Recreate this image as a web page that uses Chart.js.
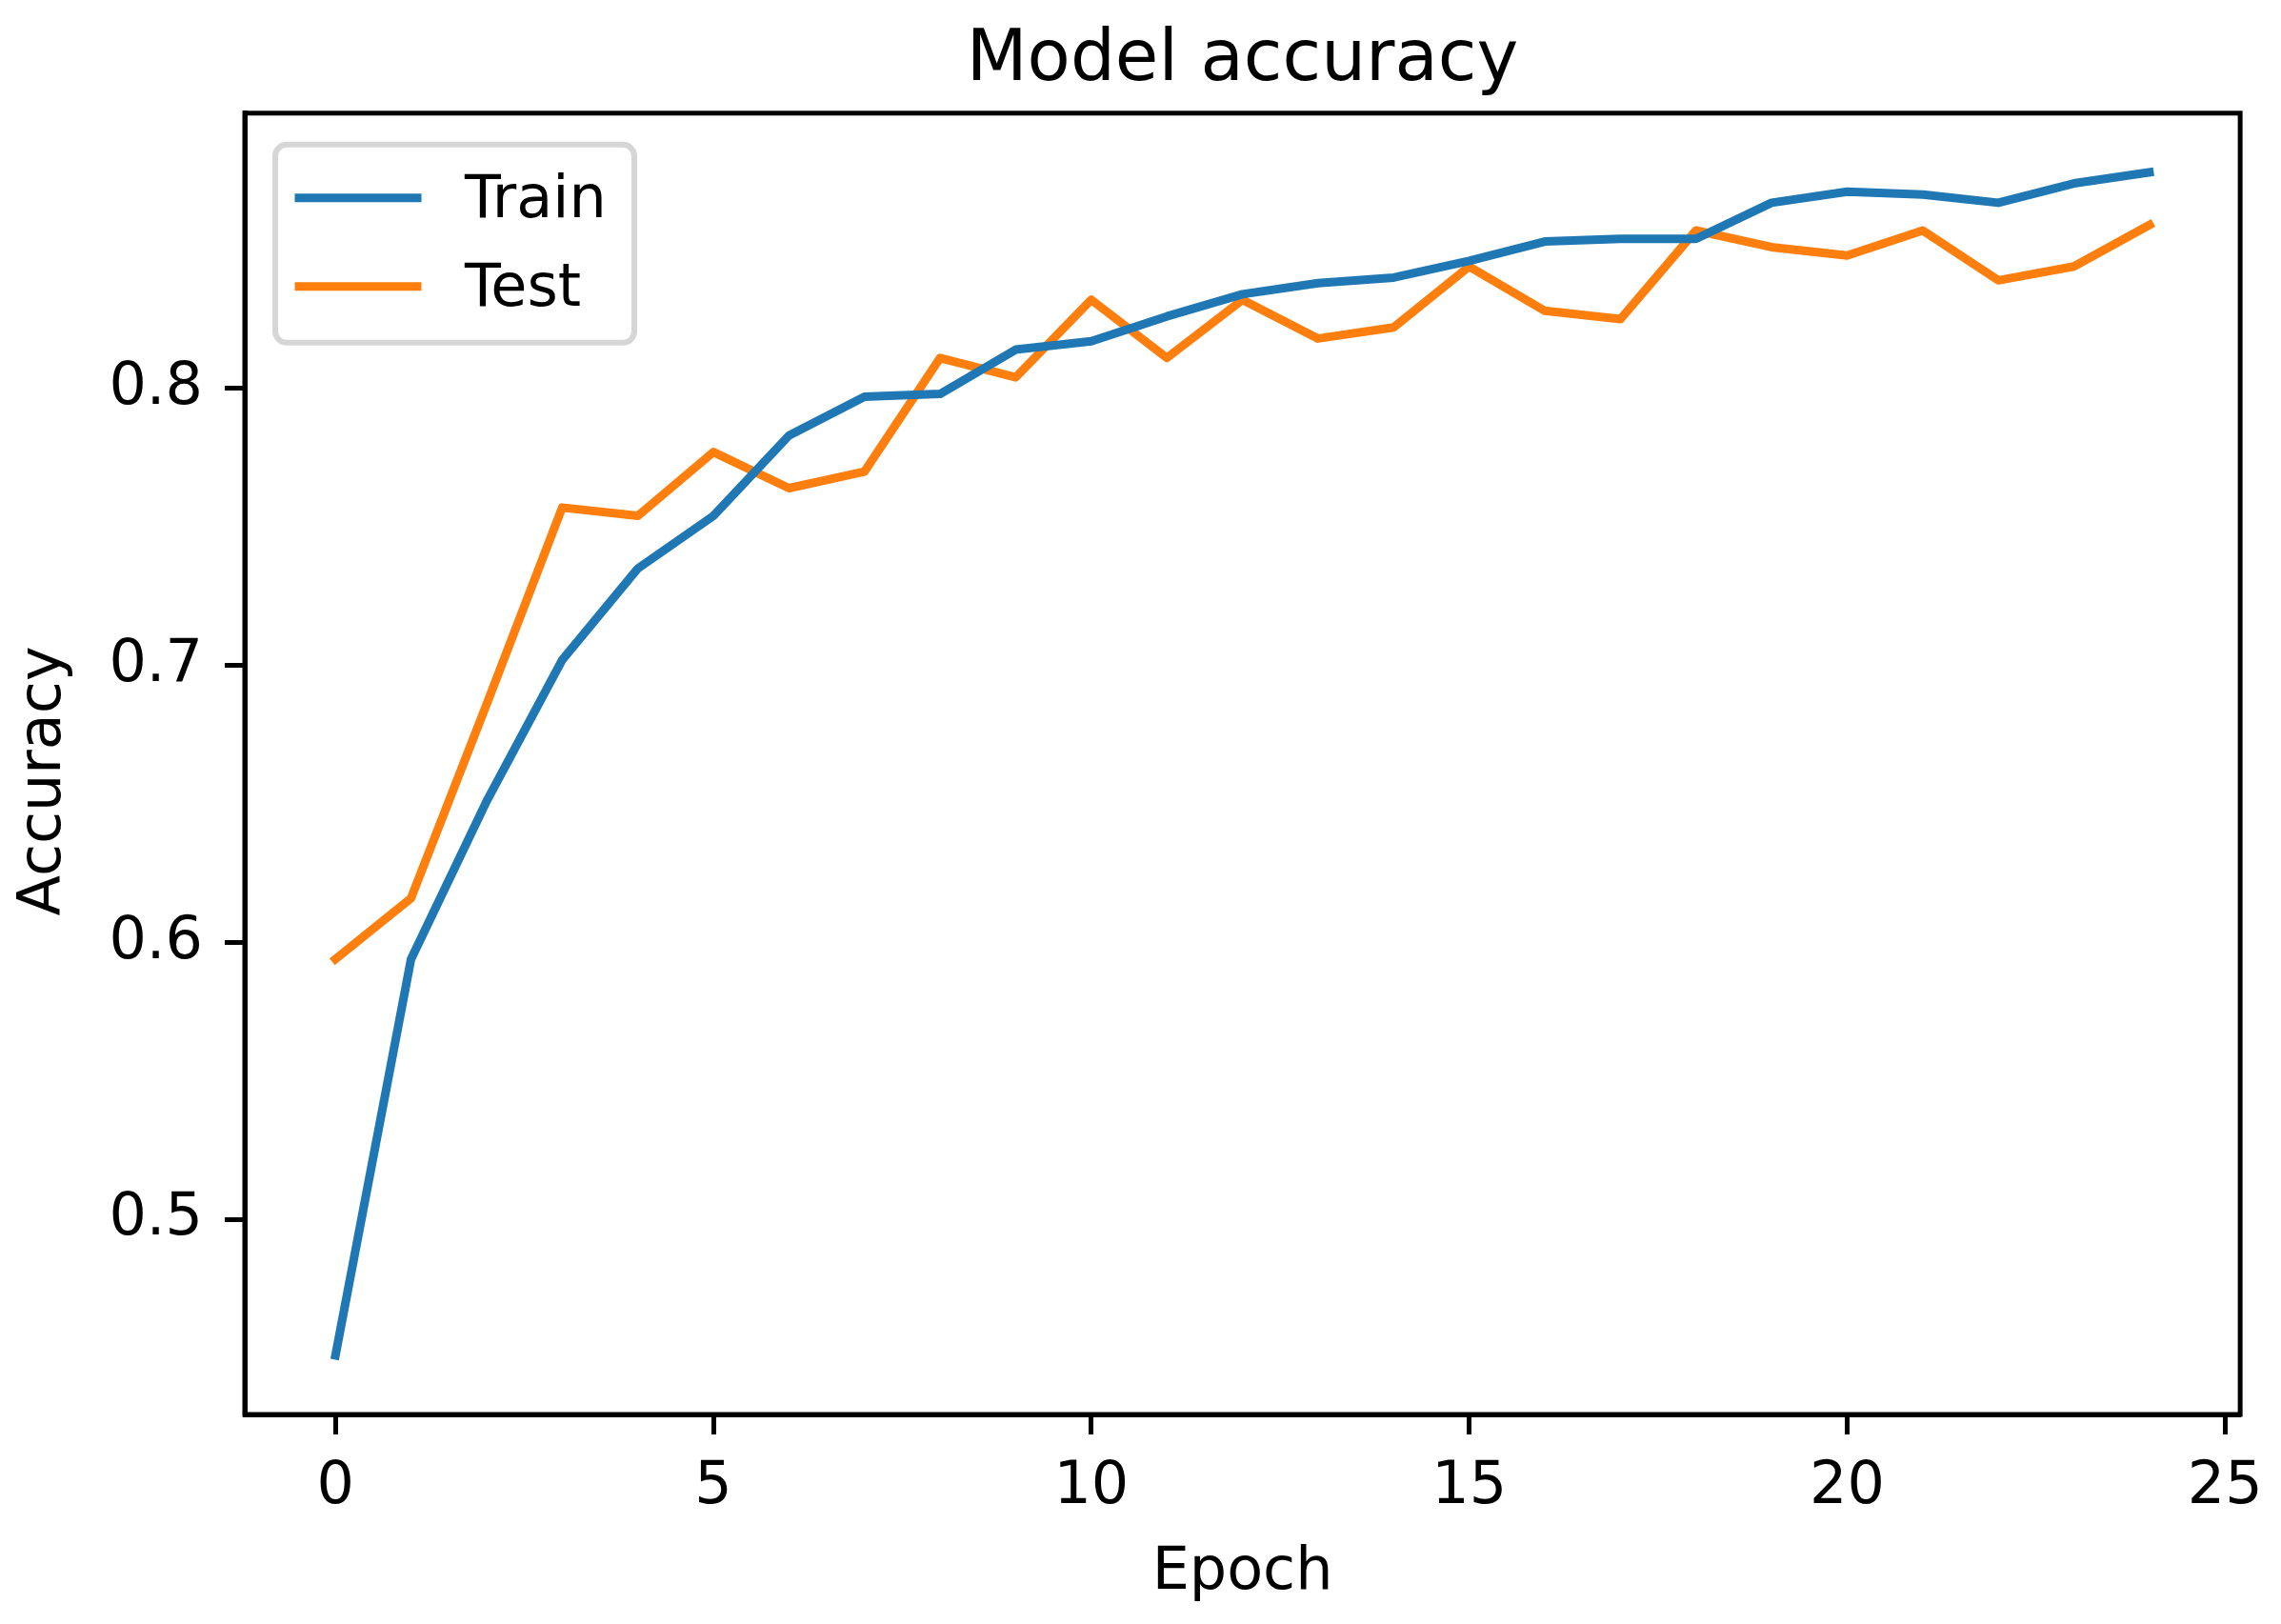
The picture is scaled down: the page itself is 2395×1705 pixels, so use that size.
<!DOCTYPE html>
<html>
<head>
<meta charset="utf-8">
<script src="https://cdn.jsdelivr.net/npm/chart.js@4/dist/chart.umd.min.js"></script>
<style>
  html, body { margin: 0; padding: 0; background: #ffffff; }
  #wrap { width: 2395px; height: 1705px; }
</style>
</head>
<body>
<div id="wrap"><canvas id="c" width="2395" height="1705"></canvas></div>
<script>
// ---- data ----
const epochs = [0,1,2,3,4,5,6,7,8,9,10,11,12,13,14,15,16,17,18,19,20,21,22,23,24];
const trainAcc = [0.451, 0.594, 0.651, 0.702, 0.735, 0.754, 0.783, 0.797, 0.798, 0.814, 0.817, 0.826, 0.834, 0.838, 0.840, 0.846, 0.853, 0.854, 0.854, 0.867, 0.871, 0.870, 0.867, 0.874, 0.878];
const testAcc  = [0.594, 0.616, 0.686, 0.757, 0.754, 0.777, 0.764, 0.770, 0.811, 0.804, 0.832, 0.811, 0.832, 0.818, 0.822, 0.844, 0.828, 0.825, 0.857, 0.851, 0.848, 0.857, 0.839, 0.844, 0.859];
const seriesNames = ['Train', 'Test'];
const xTicks = [0, 5, 10, 15, 20, 25];
const xTickLabels = ['0', '5', '10', '15', '20', '25'];
const yTicks = [0.5, 0.6, 0.7, 0.8];
const yTickLabels = ['0.5', '0.6', '0.7', '0.8'];
const titleText = 'Model accuracy';
const xTitle = 'Epoch';
const yTitle = 'Accuracy';

// ---- axis limits with matplotlib-like 5% margins ----
const allY = trainAcc.concat(testAcc);
const yLo = Math.min(...allY), yHi = Math.max(...allY);
const yPad = (yHi - yLo) * 0.05;
const xLo = Math.min(...epochs), xHi = Math.max(...epochs);
const xPad = (xHi - xLo) * 0.05;

const FONT = "'DejaVu Sans', 'Liberation Sans', sans-serif";
const BLUE = '#1f77b4', ORANGE = '#ff7f0e';

// centre the title over the plot area, as matplotlib does
const titleCenterPlugin = {
  id: 'titleCenter',
  afterLayout(chart) {
    if (chart.titleBlock) {
      chart.titleBlock.left = chart.chartArea.left;
      chart.titleBlock.right = chart.chartArea.right;
      chart.titleBlock.width = chart.chartArea.right - chart.chartArea.left;
    }
  }
};

const framePlugin = {
  id: 'frame',
  afterDatasetsDraw(chart) {
    const a = chart.chartArea, ctx = chart.ctx;
    ctx.save();
    ctx.strokeStyle = '#000';
    ctx.lineWidth = 5;
    ctx.lineJoin = 'miter';
    ctx.strokeRect(a.left, a.top, a.right - a.left, a.bottom - a.top);
    ctx.restore();
  }
};

const yTitlePlugin = {
  id: 'yTitle',
  afterDraw(chart) {
    const a = chart.chartArea, ctx = chart.ctx;
    ctx.save();
    ctx.translate(47, (a.top + a.bottom) / 2 + 18);
    ctx.rotate(-Math.PI / 2);
    ctx.fillStyle = '#000';
    ctx.font = '62px ' + FONT;
    ctx.textAlign = 'center';
    ctx.textBaseline = 'middle';
    ctx.fillText(yTitle, 0, 0);
    ctx.restore();
  }
};

const legendPlugin = {
  id: 'mplLegend',
  afterDraw(chart) {
    const a = chart.chartArea, ctx = chart.ctx;
    const fs = 62;
    const bx = a.left + 32, by = a.top + 33, bw = 377, bh = 208, r = 12;
    ctx.save();
    ctx.beginPath();
    ctx.moveTo(bx + r, by);
    ctx.arcTo(bx + bw, by, bx + bw, by + bh, r);
    ctx.arcTo(bx + bw, by + bh, bx, by + bh, r);
    ctx.arcTo(bx, by + bh, bx, by, r);
    ctx.arcTo(bx, by, bx + bw, by, r);
    ctx.closePath();
    ctx.fillStyle = 'rgba(255,255,255,0.8)';
    ctx.fill();
    ctx.strokeStyle = 'rgba(204,204,204,0.8)';
    ctx.lineWidth = 6;
    ctx.stroke();
    const rowsY = [by + 56, by + 149];
    chart.data.datasets.forEach((ds, i) => {
      const y = rowsY[i];
      ctx.beginPath();
      ctx.strokeStyle = ds.borderColor;
      ctx.lineWidth = 9;
      ctx.lineCap = 'square';
      ctx.moveTo(bx + 25, y);
      ctx.lineTo(bx + 25 + 124, y);
      ctx.stroke();
      ctx.fillStyle = '#000';
      ctx.font = fs + 'px ' + FONT;
      ctx.textAlign = 'left';
      ctx.textBaseline = 'middle';
      ctx.fillText(ds.label, bx + 25 + 124 + 50, y + 4);
    });
    ctx.restore();
  }
};

new Chart(document.getElementById('c'), {
  type: 'line',
  data: {
    datasets: [
      { label: seriesNames[0], data: epochs.map((e, i) => ({x: e, y: trainAcc[i]})),
        borderColor: BLUE, backgroundColor: BLUE, borderWidth: 9, pointRadius: 0,
        tension: 0, borderJoinStyle: 'round', borderCapStyle: 'square', fill: false },
      { label: seriesNames[1], data: epochs.map((e, i) => ({x: e, y: testAcc[i]})),
        borderColor: ORANGE, backgroundColor: ORANGE, borderWidth: 9, pointRadius: 0,
        tension: 0, borderJoinStyle: 'round', borderCapStyle: 'square', fill: false }
    ]
  },
  options: {
    responsive: false,
    animation: false,
    devicePixelRatio: 1,
    layout: { padding: { left: 0, right: 40, top: 0, bottom: 0 } },
    plugins: {
      legend: { display: false },
      tooltip: { enabled: false },
      title: {
        display: true, text: titleText, color: '#000',
        font: { family: FONT, size: 74, weight: 'normal', lineHeight: 1.2 },
        padding: { top: 20, bottom: 10 }
      }
    },
    scales: {
      x: {
        type: 'linear', min: xLo - xPad, max: xHi + xPad,
        afterFit: (s) => { s.height = 220; },
        afterBuildTicks: (s) => { s.ticks = xTicks.map(v => ({ value: v })); },
        ticks: { callback: (v, i) => xTickLabels[i], color: '#000', padding: 19, maxRotation: 0, autoSkip: false,
                 font: { family: FONT, size: 62, lineHeight: 1.2 } },
        grid: { display: true, drawOnChartArea: false, drawTicks: true, tickLength: 21, tickWidth: 5, tickColor: '#000' },
        border: { display: true, color: '#000', width: 5 },
        title: { display: true, text: xTitle, color: '#000', padding: { top: 0, bottom: 16 },
                 font: { family: FONT, size: 62, lineHeight: 1.2 } }
      },
      y: {
        type: 'linear', min: yLo - yPad, max: yHi + yPad,
        afterFit: (s) => { s.width = 257; },
        afterBuildTicks: (s) => { s.ticks = yTicks.map(v => ({ value: v })); },
        ticks: { callback: (v, i) => yTickLabels[i], color: '#000', padding: 23, autoSkip: false,
                 font: { family: FONT, size: 62, lineHeight: 1.2 } },
        grid: { display: true, drawOnChartArea: false, drawTicks: true, tickLength: 21, tickWidth: 5, tickColor: '#000' },
        border: { display: true, color: '#000', width: 5 },
        title: { display: false, text: yTitle }
      }
    }
  },
  plugins: [titleCenterPlugin, framePlugin, yTitlePlugin, legendPlugin]
});
</script>
</body>
</html>
